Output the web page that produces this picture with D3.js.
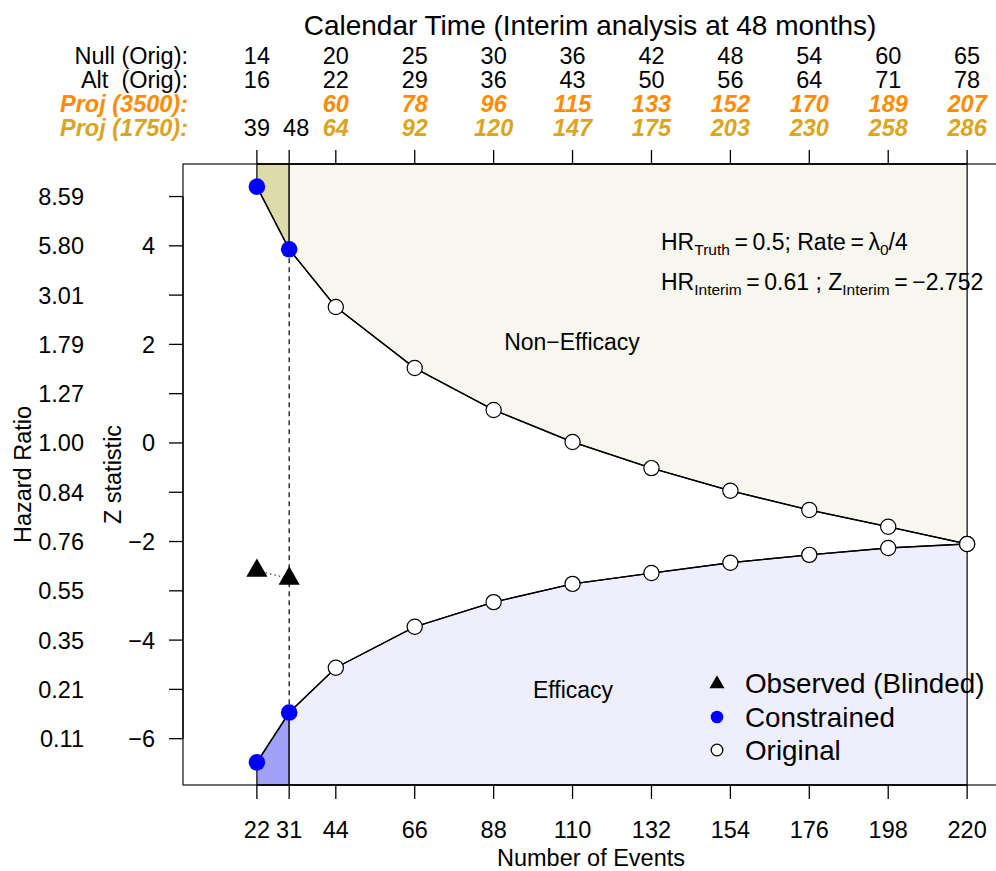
<!DOCTYPE html>
<html>
<head>
<meta charset="utf-8">
<script src="https://cdn.jsdelivr.net/npm/d3@7"></script>
<style>
  html, body { margin: 0; padding: 0; background: #fff; }
  svg { display: block; font-family: "Liberation Sans", Arial, Helvetica, sans-serif; }
  text { white-space: pre; }
</style>
</head>
<body>
<svg id="chart" width="996" height="871"></svg>
<script>
// Analysis times (number of events) at which the boundaries are evaluated
const events = [22, 31, 44, 66, 88, 110, 132, 154, 176, 198, 220];

// Boundary Z values: first two are constrained, the rest are the original design
const upperZ = [5.20, 3.93, 2.76, 1.52, 0.67, 0.02, -0.51, -0.97, -1.36, -1.70, -2.05];
const lowerZ = [-6.48, -5.47, -4.56, -3.73, -3.23, -2.86, -2.64, -2.43, -2.27, -2.13, -2.05];
const constrainedCount = 2;

// Observed (blinded) interim statistics
const observedEvents = [22, 31];
const observedZ = [-2.59, -2.752];

// Calendar-time rows above the plot
const rowNames = ["Null (Orig):", "Alt  (Orig):", "Proj (3500):", "Proj (1750):"];
const nullOrig = ["14", "", "20", "25", "30", "36", "42", "48", "54", "60", "65"];
const altOrig = ["16", "", "22", "29", "36", "43", "50", "56", "64", "71", "78"];
const proj3500 = ["", "", "60", "78", "96", "115", "133", "152", "170", "189", "207"];
const proj1750 = ["39", "48", "64", "92", "120", "147", "175", "203", "230", "258", "286"];

// Left axis: Z ticks and their hazard-ratio equivalents
const zTicks = [5, 4, 3, 2, 1, 0, -1, -2, -3, -4, -5, -6];
const hrLabels = ["8.59", "5.80", "3.01", "1.79", "1.27", "1.00", "0.84", "0.76", "0.55", "0.35", "0.21", "0.11"];
const zLabels = ["", "4", "", "2", "", "0", "", "\u22122", "", "\u22124", "", "\u22126"];

const legendLabels = ["Observed (Blinded)", "Constrained", "Original"];

const svg = d3.select("#chart");
const plot = { left: 183, top: 164, bottom: 785, right: 1003 };

const x = d3.scaleLinear().domain([1.4, 230]).range([plot.left, plot.right]);
const y = d3.scaleLinear().domain([-6.94, 5.66]).range([plot.bottom, plot.top]);
const zTop = y.domain()[1], zBot = y.domain()[0];

const colors = {
  upperDark: "#dcdba9", upperLight: "#f8f7ef",
  lowerDark: "#a1a1f7", lowerLight: "#eeeefc",
  blue: "#0000ff", orange: "#ff8c00", gold: "#daa520"
};
const base = 23.5;

const line = d3.line().x(d => x(d[0])).y(d => y(d[1]));
const pts = (zs) => events.map((e, i) => [e, zs[i]]);
const upper = pts(upperZ), lower = pts(lowerZ);
const k = constrainedCount - 1;

// Shaded regions
const polys = [
  { d: [[events[0], zTop], ...upper.slice(0, k + 1), [events[k], zTop]], fill: colors.upperDark },
  { d: [[events[k], zTop], ...upper.slice(k), [events[events.length - 1], zTop]], fill: colors.upperLight },
  { d: [[events[0], zBot], ...lower.slice(0, k + 1), [events[k], zBot]], fill: colors.lowerDark },
  { d: [[events[k], zBot], ...lower.slice(k), [events[events.length - 1], zBot]], fill: colors.lowerLight }
];
svg.append("g").selectAll("path").data(polys).join("path")
  .attr("d", p => line(p.d) + "Z")
  .attr("fill", p => p.fill)
  .attr("stroke", "#000").attr("stroke-width", 1.2);

// Plot frame
svg.append("rect")
  .attr("x", plot.left).attr("y", plot.top)
  .attr("width", plot.right - plot.left).attr("height", plot.bottom - plot.top)
  .attr("fill", "none").attr("stroke", "#222").attr("stroke-width", 1.3);

// Dashed line at the interim analysis
svg.append("line")
  .attr("x1", x(events[k])).attr("x2", x(events[k]))
  .attr("y1", y(upperZ[k])).attr("y2", y(lowerZ[k]))
  .attr("stroke", "#000").attr("stroke-width", 1.2).attr("stroke-dasharray", "5,4");

// Boundary curves
svg.append("path").attr("d", line(upper)).attr("fill", "none").attr("stroke", "#000").attr("stroke-width", 1.4);
svg.append("path").attr("d", line(lower)).attr("fill", "none").attr("stroke", "#000").attr("stroke-width", 1.4);

// Boundary points
const allPts = [...upper, ...lower].map((p, i) => ({ p, constrained: (i % events.length) < constrainedCount }));
svg.append("g").selectAll("circle").data(allPts).join("circle")
  .attr("cx", d => x(d.p[0])).attr("cy", d => y(d.p[1]))
  .attr("r", d => d.constrained ? 8.3 : 7.6)
  .attr("fill", d => d.constrained ? colors.blue : "#fff")
  .attr("stroke", d => d.constrained ? "none" : "#000")
  .attr("stroke-width", 1.2);

// Observed statistics: dotted connector and triangles
const obs = observedEvents.map((e, i) => [e, observedZ[i]]);
svg.append("path").attr("d", line(obs)).attr("fill", "none")
  .attr("stroke", "#555").attr("stroke-width", 1.4).attr("stroke-dasharray", "1.5,3");
function triangle(u) {
  // filled triangle centred on its centroid
  return `M0,${-1.555 * u}L${1.347 * u},${0.778 * u}L${-1.347 * u},${0.778 * u}Z`;
}
svg.append("g").selectAll("path").data(obs).join("path")
  .attr("d", triangle(7.86))
  .attr("transform", d => `translate(${x(d[0])},${y(d[1])})`)
  .attr("fill", "#000");

// Left axis
const leftAxis = svg.append("g");
leftAxis.append("line")
  .attr("x1", plot.left).attr("x2", plot.left)
  .attr("y1", y(zTicks[0])).attr("y2", y(zTicks[zTicks.length - 1]))
  .attr("stroke", "#000").attr("stroke-width", 1.3);
zTicks.forEach((z, i) => {
  leftAxis.append("line").attr("x1", plot.left - 14).attr("x2", plot.left)
    .attr("y1", y(z)).attr("y2", y(z)).attr("stroke", "#000").attr("stroke-width", 1.3);
  leftAxis.append("text").attr("x", 84).attr("y", y(z)).attr("dy", "0.36em")
    .attr("text-anchor", "end").attr("font-size", base).text(hrLabels[i]);
  if (zLabels[i]) leftAxis.append("text").attr("x", 155).attr("y", y(z)).attr("dy", "0.36em")
    .attr("text-anchor", "end").attr("font-size", base).text(zLabels[i]);
});
const yMid = (plot.top + plot.bottom) / 2;
svg.append("text").attr("transform", `translate(31,${yMid}) rotate(-90)`)
  .attr("text-anchor", "middle").attr("font-size", base).text("Hazard Ratio");
svg.append("text").attr("transform", `translate(121,${yMid}) rotate(-90)`)
  .attr("text-anchor", "middle").attr("font-size", base).text("Z statistic");

// Bottom axis
const bottomAxis = svg.append("g");
bottomAxis.append("line").attr("x1", x(events[0])).attr("x2", x(events[events.length - 1]))
  .attr("y1", plot.bottom).attr("y2", plot.bottom).attr("stroke", "#000").attr("stroke-width", 1.3);
events.forEach(e => {
  bottomAxis.append("line").attr("x1", x(e)).attr("x2", x(e))
    .attr("y1", plot.bottom).attr("y2", plot.bottom + 14).attr("stroke", "#000").attr("stroke-width", 1.3);
  bottomAxis.append("text").attr("x", x(e)).attr("y", 838)
    .attr("text-anchor", "middle").attr("font-size", base).text(e);
});
svg.append("text").attr("x", 591).attr("y", 866).attr("text-anchor", "middle")
  .attr("font-size", base).text("Number of Events");

// Top axis with calendar-time rows
const topAxis = svg.append("g");
topAxis.append("line").attr("x1", x(events[0])).attr("x2", x(events[events.length - 1]))
  .attr("y1", plot.top).attr("y2", plot.top).attr("stroke", "#000").attr("stroke-width", 1.3);
events.forEach(e => {
  topAxis.append("line").attr("x1", x(e)).attr("x2", x(e))
    .attr("y1", plot.top - 14).attr("y2", plot.top).attr("stroke", "#000").attr("stroke-width", 1.3);
});
svg.append("text").attr("x", 590).attr("y", 35).attr("text-anchor", "middle")
  .attr("font-size", 28).text("Calendar Time (Interim analysis at 48 months)");

const rowBase = [63.5, 88, 111.5, 135.5];
const rowStyle = [
  { fill: "#000", weight: "normal", italic: false },
  { fill: "#000", weight: "normal", italic: false },
  { fill: colors.orange, weight: "bold", italic: true },
  { fill: colors.gold, weight: "bold", italic: true }
];
rowNames.forEach((name, r) => {
  svg.append("text").attr("x", 188).attr("y", rowBase[r]).attr("text-anchor", "end")
    .attr("font-size", base).attr("fill", rowStyle[r].fill)
    .attr("font-weight", rowStyle[r].weight)
    .attr("font-style", rowStyle[r].italic ? "italic" : "normal")
    .text(name);
});
[nullOrig, altOrig, proj3500, proj1750].forEach((vals, r) => {
  vals.forEach((v, i) => {
    if (!v) return;
    // the two realised interim counts are printed plainly; projections use the row style
    const realised = r === 3 && i < constrainedCount;
    const st = realised ? rowStyle[0] : rowStyle[r];
    svg.append("text").attr("x", x(events[i])).attr("dx", realised && i === 1 ? 7 : 0)
      .attr("y", rowBase[r]).attr("text-anchor", "middle")
      .attr("font-size", base).attr("fill", st.fill)
      .attr("font-weight", st.weight).attr("font-style", st.italic ? "italic" : "normal")
      .text(v);
  });
});

// Region labels
svg.append("text").attr("x", 572).attr("y", 350).attr("text-anchor", "middle")
  .attr("font-size", 23).text("Non\u2212Efficacy");
svg.append("text").attr("x", 573).attr("y", 698).attr("text-anchor", "middle")
  .attr("font-size", 23).text("Efficacy");

// Annotations with subscripts (tight spacing around "=")
function annot(yPos, parts) {
  const t = svg.append("text").attr("x", 661).attr("y", yPos).attr("font-size", 23);
  let shifted = false;
  parts.forEach(([s, sub]) => {
    const ts = t.append("tspan").text(s);
    if (sub && !shifted) { ts.attr("dy", 5).attr("font-size", 15.5); shifted = true; }
    else if (!sub && shifted) { ts.attr("dy", -5); shifted = false; }
  });
}
const eq = "\u2009=\u2009";
annot(250, [["HR"], ["Truth", true], [eq + "0.5; Rate" + eq + "\u03bb"], ["0", true], ["/4"]]);
annot(290, [["HR"], ["Interim", true], [eq + "0.61 ; Z"], ["Interim", true], [eq + "\u22122.752"]]);

// Legend
const lg = svg.append("g");
const legY = [683, 717, 750];
lg.append("path").attr("d", triangle(5.6)).attr("transform", `translate(717,${legY[0] + 1})`).attr("fill", "#000");
lg.append("circle").attr("cx", 717).attr("cy", legY[1]).attr("r", 6.3).attr("fill", colors.blue);
lg.append("circle").attr("cx", 717).attr("cy", legY[2]).attr("r", 5.8).attr("fill", "#fff")
  .attr("stroke", "#000").attr("stroke-width", 1.3);
legendLabels.forEach((l, i) => {
  lg.append("text").attr("x", 745).attr("y", legY[i]).attr("dy", "0.36em")
    .attr("font-size", 27.8).text(l);
});
</script>
</body>
</html>
